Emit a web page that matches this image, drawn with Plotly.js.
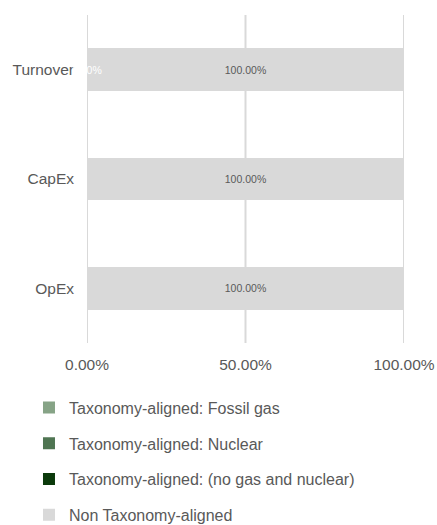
<!DOCTYPE html>
<html>
<head>
<meta charset="utf-8">
<script src="https://cdn.plot.ly/plotly-3.0.1.min.js"></script>
<style>html,body{margin:0;padding:0;background:#fff;}#chart{width:437px;height:525px;}</style>
</head>
<body>
<div id="chart"></div>
<script>
const categories = ["Turnover", "CapEx", "OpEx"];
const seriesNames = [
  "Taxonomy-aligned: Fossil gas",
  "Taxonomy-aligned: Nuclear",
  "Taxonomy-aligned: (no gas and nuclear)",
  "Non Taxonomy-aligned"
];
const fossilGas = [0, 0, 0];
const nuclear = [0, 0, 0];
const alignedNoGasNuclear = [0, 0, 0];
const nonAligned = [100, 100, 100];
const tickVals = [0, 50, 100];
const tickText = ["0.00%", "50.00%", "100.00%"];
const colors = ["#86a386", "#4f7552", "#0b3a0b", "#d9d9d9"];

const FONT = "Arial, 'Liberation Sans', sans-serif";
const seriesValues = [fossilGas, nuclear, alignedNoGasNuclear, nonAligned];
const fmt = v => v.toFixed(2) + "%";

const traces = seriesValues.map((vals, i) => ({
  type: "bar",
  orientation: "h",
  name: seriesNames[i],
  y: categories,
  x: vals,
  marker: {color: colors[i]},
  legendgroup: "g" + i,
  text: vals.map(v => v > 0 ? fmt(v) : ""),
  textposition: "inside",
  insidetextanchor: "middle",
  textangle: 0,
  textfont: {family: FONT, size: 10.5, color: "#595959"},
  hoverinfo: "skip"
}));

const annotations = [{
  x: alignedNoGasNuclear[0],
  y: categories[0],
  xref: "x", yref: "y",
  text: fmt(alignedNoGasNuclear[0]),
  showarrow: false,
  xanchor: "center",
  font: {family: FONT, size: 10.5, color: "#ffffff"}
}];

const gridShapes = tickVals.map(v => ({
  type: "line",
  xref: "x", yref: "paper",
  x0: v, x1: v, y0: 0, y1: 1,
  layer: "below",
  line: {color: "#d9d9d9", width: 2}
}));

const layout = {
  width: 437,
  height: 525,
  margin: {l: 87, r: 33, t: 15, b: 182, autoexpand: false},
  paper_bgcolor: "#ffffff",
  plot_bgcolor: "#ffffff",
  barmode: "stack",
  bargap: 0.607,
  font: {family: FONT, color: "#595959"},
  xaxis: {
    range: [0, 100],
    tickvals: tickVals,
    ticktext: tickText,
    showgrid: false,
    zeroline: false,
    showline: false,
    ticks: "",
    ticklabelstandoff: 10,
    tickfont: {family: FONT, size: 15.5, color: "#595959"},
    fixedrange: true
  },
  yaxis: {
    type: "category",
    categoryorder: "array",
    categoryarray: categories,
    range: [2.5, -0.5],
    showgrid: false,
    zeroline: false,
    showline: false,
    ticks: "",
    ticklabelstandoff: 12,
    tickfont: {family: FONT, size: 15.5, color: "#595959"},
    fixedrange: true
  },
  showlegend: true,
  legend: {
    orientation: "v",
    traceorder: "grouped",
    x: -0.183,
    xanchor: "left",
    y: -0.145,
    yanchor: "top",
    tracegroupgap: 12,
    font: {family: FONT, size: 16, color: "#595959"},
    bgcolor: "rgba(0,0,0,0)"
  },
  shapes: gridShapes,
  annotations: annotations
};

Plotly.newPlot("chart", traces, layout, {displayModeBar: false, staticPlot: true});
</script>
</body>
</html>
